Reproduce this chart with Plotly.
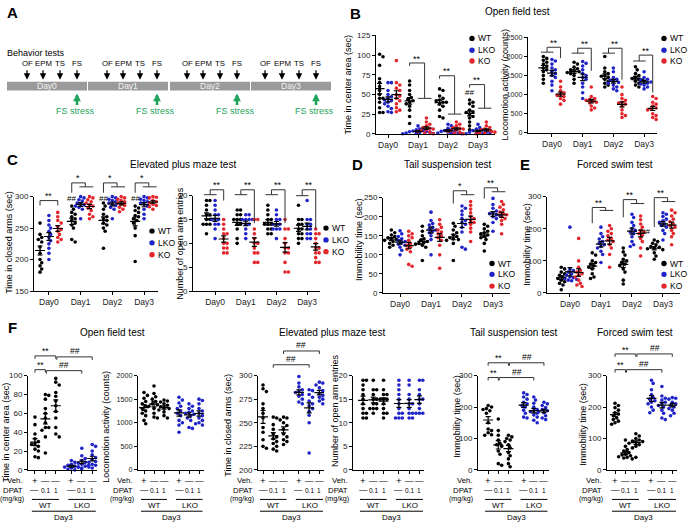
import numpy as np
import plotly.graph_objects as go

W, H = 688, 528
FONT = "Liberation Sans, Arial, sans-serif"
C_WT, C_LKO, C_KO = "#000000", "#1f24c8", "#e3262b"
GREEN = "#1fa35b"

# ---------------- labels ----------------
days = ["Day0", "Day1", "Day2", "Day3"]
genotypes = ["WT", "LKO", "KO"]
schedule_tests = ["OF", "EPM", "TS", "FS"]
veh_row = ["+", "—", "—", "+", "—", "—"]
dpat_row = ["—", "0.1", "1", "—", "0.1", "1"]
f_genotypes = ["WT", "LKO"]

# ---------------- data: panels B-E (Day0..Day3) ----------------
of_center_wt = [[101, 98, 87, 70, 65, 60, 55, 50, 45, 40, 33, 27, 27, 45],
                [67, 62, 55, 50, 46, 44, 42, 40, 38, 35, 30, 22, 13],
                [57, 55, 48, 45, 43, 42, 40, 40, 38, 35, 30, 22, 20],
                [43, 40, 38, 35, 30, 28, 27, 25, 22, 20, 15, 10, 5]]
of_center_lko = [[65, 65, 55, 50, 47, 45, 43, 42, 40, 38, 35, 32, 28, 27],
                 [10, 6, 5, 4, 3.5, 3, 2.5, 2, 1.5, 1, 0.5, 0.3, 0],
                 [12, 10, 7, 5, 4, 3, 3, 2, 1, 1, 0.5, 0],
                 [12, 8, 6, 5, 4, 3, 2, 2, 1, 1, 0.5, 0]]
of_center_ko = [[93, 65, 62, 58, 55, 50, 48, 45, 42, 38, 33, 30, 28],
                [20, 15, 12, 10, 8, 7, 6, 5, 4, 3, 2, 1, 0],
                [15, 12, 10, 8, 7, 6, 5, 4, 3, 2, 1, 0],
                [15, 10, 8, 6, 5, 4, 3, 2, 1, 1, 0]]

of_loco_wt = [[2000, 1950, 1900, 1850, 1800, 1750, 1700, 1650, 1600, 1500, 1400, 1300],
              [1850, 1800, 1720, 1680, 1650, 1620, 1600, 1580, 1550, 1500, 1400, 1300],
              [2000, 1700, 1600, 1550, 1500, 1480, 1450, 1400, 1350, 1300, 1250, 1200],
              [1730, 1650, 1550, 1500, 1450, 1420, 1400, 1380, 1350, 1300, 1250, 1200]]
of_loco_lko = [[1920, 1880, 1800, 1700, 1650, 1600, 1550, 1500, 1450, 1350, 1250, 1100],
               [1870, 1820, 1750, 1650, 1550, 1500, 1450, 1400, 1300, 1200, 1050, 900],
               [1700, 1600, 1450, 1400, 1380, 1350, 1320, 1300, 1250, 1200, 1150, 1100],
               [1600, 1450, 1400, 1380, 1350, 1330, 1300, 1280, 1250, 1200, 1150]]
of_loco_ko = [[1350, 1200, 1100, 1050, 1000, 980, 950, 900, 850, 750],
              [1200, 950, 900, 870, 850, 820, 800, 780, 700, 650, 600],
              [1200, 1000, 900, 850, 800, 780, 750, 700, 600, 500, 450, 400],
              [950, 900, 800, 750, 700, 650, 620, 600, 500, 450, 400, 350]]

epm_closed_wt = [[258, 240, 235, 232, 228, 220, 210, 200, 195, 190, 185, 180],
                 [285, 280, 275, 272, 268, 265, 262, 258, 255, 250, 232, 228],
                 [290, 285, 280, 272, 268, 265, 262, 258, 255, 250, 245, 218],
                 [285, 282, 278, 275, 270, 268, 265, 262, 258, 250, 238, 197]]
epm_closed_lko = [[270, 262, 255, 250, 245, 240, 235, 230, 225, 218, 210, 200],
                  [300, 298, 295, 293, 290, 288, 287, 285, 283, 280, 265],
                  [300, 298, 296, 294, 292, 290, 288, 286, 283, 280, 265],
                  [300, 298, 296, 294, 292, 290, 288, 285, 280, 272, 265]]
epm_closed_ko = [[275, 268, 262, 258, 252, 248, 245, 240, 235, 232, 228],
                 [300, 298, 295, 292, 290, 287, 285, 282, 278, 272, 268, 265],
                 [300, 298, 296, 294, 292, 290, 288, 286, 283, 280, 276],
                 [300, 299, 298, 296, 294, 292, 290, 288, 286, 284, 280]]

epm_entries_wt = [[19, 19, 18, 17, 16, 16, 15, 15, 14, 14, 14, 12],
                  [17, 17, 16, 16, 15, 15, 15, 14, 14, 13, 11, 10],
                  [18, 17, 16, 15, 15, 14, 14, 14, 13, 13, 12, 12],
                  [18, 15, 15, 14, 14, 13, 13, 12, 12, 11, 11, 10]]
epm_entries_lko = [[19, 18, 17, 16, 16, 15, 15, 15, 14, 14, 13, 11],
                   [16, 16, 15, 15, 15, 15, 14, 14, 13, 12, 11],
                   [17, 16, 15, 15, 14, 14, 14, 13, 13, 13, 11],
                   [19, 15, 15, 14, 14, 13, 13, 12, 12, 11, 11]]
epm_entries_ko = [[15, 14, 13, 12, 12, 11, 10, 10, 9, 9, 8, 8],
                  [15, 15, 13, 12, 11, 10, 10, 9, 8, 8, 6, 6],
                  [15, 13, 13, 11, 10, 9, 9, 8, 8, 6, 4, 4],
                  [13, 12, 12, 11, 10, 9, 9, 8, 8, 7, 6, 6]]

ts_imm_wt = [[165, 158, 152, 148, 145, 143, 140, 138, 135, 130, 125, 120],
             [175, 162, 150, 142, 138, 135, 133, 130, 128, 125, 120, 85],
             [183, 175, 165, 158, 152, 148, 145, 142, 140, 138, 130, 85],
             [180, 175, 168, 162, 158, 155, 152, 148, 145, 140, 130, 110]]
ts_imm_lko = [[163, 155, 148, 142, 138, 135, 132, 128, 125, 120, 112, 100],
              [212, 190, 182, 178, 172, 168, 165, 162, 158, 150, 140, 100],
              [228, 222, 215, 205, 195, 190, 185, 180, 172, 160, 120, 115],
              [248, 232, 222, 215, 210, 208, 205, 203, 200, 195, 185, 162]]
ts_imm_ko = [[162, 155, 150, 145, 138, 130, 125, 120, 115, 108, 75, 70],
             [192, 180, 172, 165, 160, 155, 150, 145, 138, 125, 100, 65],
             [240, 230, 220, 210, 200, 195, 190, 185, 180, 170, 160, 135],
             [240, 232, 225, 218, 212, 208, 205, 200, 195, 190, 180, 155]]

fs_imm_wt = [[80, 75, 65, 60, 55, 50, 45, 40, 35, 30, 25, 10],
             [125, 118, 100, 95, 90, 85, 80, 75, 60, 50, 45],
             [140, 128, 118, 105, 100, 95, 90, 85, 75, 65, 40, 28],
             [165, 160, 155, 150, 145, 142, 140, 138, 135, 125, 115, 105]]
fs_imm_lko = [[205, 75, 70, 65, 60, 55, 50, 48, 45, 42, 40, 38],
              [205, 185, 175, 168, 160, 155, 150, 145, 140, 130, 120, 95],
              [245, 235, 220, 210, 200, 195, 190, 185, 175, 160, 150, 145],
              [250, 245, 238, 230, 225, 220, 215, 210, 205, 195, 185, 165]]
fs_imm_ko = [[170, 100, 80, 70, 65, 60, 55, 50, 40, 30, 25, 20],
             [210, 200, 192, 185, 178, 170, 165, 160, 150, 140, 120, 80],
             [240, 228, 215, 205, 195, 190, 185, 180, 170, 160, 140, 115],
             [258, 250, 240, 230, 222, 215, 210, 205, 195, 185, 175, 150]]

# ---------------- data: panel F (Day3; Veh, DPAT 0.1, DPAT 1) ----------------
f_of_center_wt = [[56, 48, 38, 33, 30, 28, 27, 25, 22, 20, 14, 13],
                  [80, 79, 75, 65, 60, 55, 50, 45, 45, 42, 35, 18],
                  [97, 93, 90, 82, 78, 73, 68, 62, 55, 45, 38, 35]]
f_of_center_lko = [[10, 8, 6, 5, 4, 3, 3, 2, 1, 1, 0],
                   [23, 15, 12, 10, 8, 7, 6, 5, 4, 3, 2],
                   [27, 25, 20, 16, 13, 11, 9, 8, 6, 5, 3, 2]]
f_of_loco_wt = [[1640, 1580, 1520, 1450, 1400, 1350, 1300, 1250, 1200, 1150, 1050, 980],
                [1780, 1620, 1550, 1500, 1450, 1400, 1380, 1350, 1300, 1200, 1120, 1100],
                [1480, 1460, 1440, 1400, 1370, 1340, 1320, 1300, 1270, 1230, 1150, 1100]]
f_of_loco_lko = [[1540, 1480, 1420, 1350, 1300, 1250, 1200, 1150, 1050, 1000, 950, 800],
                 [1400, 1350, 1300, 1250, 1220, 1200, 1180, 1150, 1100, 1050, 900, 880],
                 [1500, 1470, 1400, 1300, 1250, 1200, 1150, 1100, 1050, 1000, 980, 950]]
f_epm_closed_wt = [[290, 286, 283, 270, 265, 260, 255, 245, 240, 232, 225, 223],
                   [256, 255, 248, 243, 238, 235, 233, 230, 228, 225, 222, 220],
                   [256, 255, 253, 250, 247, 243, 238, 235, 232, 230, 227]]
f_epm_closed_lko = [[299, 292, 288, 285, 283, 282, 280, 278, 275, 272, 270],
                    [285, 284, 280, 277, 273, 270, 268, 265, 262, 258, 250, 218],
                    [293, 292, 290, 287, 284, 281, 279, 277, 275, 273, 270]]
f_epm_entries_wt = [[19, 19, 18, 17, 16, 15, 14, 13, 12, 12, 11, 11],
                    [19, 17, 17, 16, 15, 15, 14, 14, 13, 13, 13, 12],
                    [19, 17, 16, 16, 15, 15, 15, 14, 13, 12, 12, 11]]
f_epm_entries_lko = [[19, 18, 17, 16, 15, 14, 13, 12, 12, 11, 11, 11],
                     [19, 18, 16, 15, 14, 14, 13, 12, 12, 11, 11],
                     [19, 19, 17, 16, 15, 15, 14, 13, 12, 12, 12]]
f_ts_imm_wt = [[205, 200, 195, 192, 188, 180, 150, 130, 125, 118, 112, 110],
               [162, 125, 110, 95, 85, 80, 75, 60, 50, 20, 15],
               [110, 105, 100, 95, 90, 80, 70, 55, 45, 35, 20, 10]]
f_ts_imm_lko = [[245, 240, 232, 225, 215, 210, 205, 200, 190, 180, 168, 165],
                [232, 222, 212, 200, 192, 188, 185, 180, 175, 168, 158, 150],
                [215, 210, 205, 198, 192, 188, 185, 182, 178, 172, 165, 160]]
f_fs_imm_wt = [[212, 205, 198, 190, 182, 178, 172, 165, 160, 155, 150, 145],
               [95, 75, 65, 60, 55, 50, 48, 45, 42, 40, 38, 35],
               [115, 108, 100, 95, 92, 90, 88, 85, 80, 75, 70, 40]]
f_fs_imm_lko = [[285, 275, 255, 240, 230, 225, 220, 215, 210, 200, 190, 182],
                [265, 235, 228, 222, 215, 210, 205, 200, 190, 180, 165, 160],
                [230, 228, 225, 220, 215, 210, 205, 200, 195, 190, 180, 172]]

# ---------------- helpers ----------------
fig = go.Figure()
layout = {}
shapes = []
annos = []
PANELS = {}


def sfx(n):
    return "" if n == 1 else str(n)


def py2p(py):
    return 1 - py / H


def make_axes(n, xd, yd, xr, yr, ytick, xtickvals, xticktext=None, tsize=8, xtsize=8.5):
    s = sfx(n)
    common = dict(showline=True, linecolor="black", linewidth=1, ticks="outside", ticklen=3,
                  tickwidth=1, tickcolor="black", showgrid=False, zeroline=False, fixedrange=True)
    layout["xaxis" + s] = dict(common, domain=[xd[0] / W, xd[1] / W], range=xr, anchor="y" + s,
                               tickvals=xtickvals, ticktext=xticktext,
                               tickfont=dict(size=xtsize, color="#1a1a1a", family=FONT),
                               showticklabels=xticktext is not None)
    layout["yaxis" + s] = dict(common, domain=[1 - yd[1] / H, 1 - yd[0] / H], range=yr,
                               tickfont=dict(size=tsize, color="#1a1a1a", family=FONT),
                               anchor="x" + s, tickvals=ytick)
    PANELS[n] = dict(xd=xd, yd=yd, sx=(xd[1] - xd[0]) / (xr[1] - xr[0]),
                     sy=(yd[1] - yd[0]) / (yr[1] - yr[0]))


def swarm(vals, cx, sx, sy, d=3.4):
    vals = np.asarray(vals, float)
    order = np.argsort(-vals, kind="stable")
    placed = []
    out = np.zeros(len(vals))
    cands = [0.0]
    for k in range(1, 16):
        cands += [k * d * 0.5, -k * d * 0.5]
    for i in order:
        ypx = vals[i] * sy
        for c in cands:
            if all((c - px) ** 2 + (ypx - pyy) ** 2 >= d * d for px, pyy in placed):
                break
        placed.append((c, ypx))
        out[i] = cx + c / sx
    return out


def add_dots(n, groups, color):
    P = PANELS[n]
    xs, ys = [], []
    for cx, vals in groups:
        xs += list(swarm(vals, cx, P["sx"], P["sy"]))
        ys += list(vals)
    fig.add_trace(go.Scatter(x=xs, y=ys, mode="markers", xaxis="x" + sfx(n), yaxis="y" + sfx(n),
                             marker=dict(size=3.6, color=color, line=dict(width=0)),
                             showlegend=False, hoverinfo="skip", cliponaxis=False))


def add_mean_sem(n, groups, hw_px=5, cap_px=2.5):
    P = PANELS[n]
    xs, ys = [], []
    for cx, vals in groups:
        m = float(np.mean(vals))
        se = float(np.std(vals, ddof=1) / np.sqrt(len(vals)))
        hw, cw = hw_px / P["sx"], cap_px / P["sx"]
        xs += [cx - hw, cx + hw, None, cx, cx, None, cx - cw, cx + cw, None, cx - cw, cx + cw, None]
        ys += [m, m, None, m - se, m + se, None, m + se, m + se, None, m - se, m - se, None]
    fig.add_trace(go.Scatter(x=xs, y=ys, mode="lines", xaxis="x" + sfx(n), yaxis="y" + sfx(n),
                             line=dict(color="black", width=1.2), showlegend=False,
                             hoverinfo="skip", cliponaxis=False))


def seg(n, x0, py0, x1, py1, color="#333333", w=1):
    shapes.append(dict(type="line", xref="x" + sfx(n), yref="paper", x0=x0, x1=x1,
                       y0=py2p(py0), y1=py2p(py1), line=dict(color=color, width=w)))


def dtext(n, x, py, text, size=9, color="black"):
    annos.append(dict(xref="x" + sfx(n), yref="paper", x=x, y=py2p(py), text=text, showarrow=False,
                      font=dict(size=size, color=color, family=FONT), xanchor="center", yanchor="middle"))


def ptext(px, py, text, size=9, color="black", xanchor="center", angle=0, bold=False):
    if bold:
        text = "<b>" + text + "</b>"
    annos.append(dict(xref="paper", yref="paper", x=px / W, y=py2p(py), text=text, showarrow=False,
                      font=dict(size=size, color=color, family=FONT), xanchor=xanchor,
                      yanchor="middle", textangle=angle))


def legend(xdot, ys):
    for py, lab, col in zip(ys, genotypes, [C_WT, C_LKO, C_KO]):
        r = 2.7
        shapes.append(dict(type="circle", xref="paper", yref="paper", x0=(xdot - r) / W, x1=(xdot + r) / W,
                           y0=py2p(py + r), y1=py2p(py - r), fillcolor=col, line=dict(width=0)))
        ptext(xdot + 4, py, lab, size=8.5, xanchor="left")


STAR_OFF, HASH_OFF = 4.5, 6


def br_simple(n, xa, xb, py, label, tick=3):
    seg(n, xa, py + tick, xa, py)
    seg(n, xa, py, xb, py)
    seg(n, xb, py, xb, py + tick)
    off = HASH_OFF if "#" in label else STAR_OFF
    dtext(n, (xa + xb) / 2, py - off, label, size=8.5)


def br_wt_down(n, d, py_top, py_low, label):          # B1 style
    seg(n, d - 0.28, py_top + 3, d - 0.28, py_top)
    seg(n, d - 0.28, py_top, d + 0.22, py_top)
    seg(n, d + 0.22, py_top, d + 0.22, py_low)
    seg(n, d + 0.0, py_low, d + 0.45, py_low)
    dtext(n, d - 0.03, py_top - STAR_OFF, label)


def br_pair_ko(n, d, py_low, py_top, py_ko, label):   # B2 / C2 style
    seg(n, d - 0.36, py_low, d + 0.05, py_low)
    seg(n, d - 0.16, py_low, d - 0.16, py_top)
    seg(n, d - 0.16, py_top, d + 0.28, py_top)
    seg(n, d + 0.28, py_top, d + 0.28, py_ko)
    dtext(n, d + 0.06, py_top - STAR_OFF, label)


def br_wt_up(n, d, py_wt, py_top, py_low, label):     # C1 / D / E style
    seg(n, d - 0.28, py_wt, d - 0.28, py_top)
    seg(n, d - 0.28, py_top, d + 0.15, py_top)
    seg(n, d + 0.15, py_top, d + 0.15, py_low)
    seg(n, d - 0.04, py_low, d + 0.4, py_low)
    dtext(n, d - 0.07, py_top - STAR_OFF, label)


GOFF = 0.28


def day_panel(n, wt, lko, ko):
    for g, (series, col) in enumerate([(wt, C_WT), (lko, C_LKO), (ko, C_KO)]):
        add_dots(n, [(d + (g - 1) * GOFF, series[d]) for d in range(len(days))], col)
    grp = []
    for g, series in enumerate([wt, lko, ko]):
        grp += [(d + (g - 1) * GOFF, series[d]) for d in range(len(days))]
    add_mean_sem(n, grp)


F_POS = [0, 1, 2, 3.5, 4.5, 5.5]


def f_panel(n, wt, lko):
    add_dots(n, [(F_POS[i], wt[i]) for i in range(3)], C_WT)
    add_dots(n, [(F_POS[3 + i], lko[i]) for i in range(3)], C_LKO)
    add_mean_sem(n, [(F_POS[i], wt[i]) for i in range(3)] + [(F_POS[3 + i], lko[i]) for i in range(3)])
    P = PANELS[n]
    xl = P["xd"][0]
    ptext(xl - 3, 485, "Veh.", size=7.8, xanchor="right")
    ptext(xl - 3, 494.5, "DPAT", size=7.8, xanchor="right")
    ptext(xl - 2.5, 504, "(mg/kg)", size=7.1, xanchor="right")
    for i, x in enumerate(F_POS):
        dtext(n, x, 485, veh_row[i], size=9.5 if veh_row[i] == "+" else 8.5)
        dtext(n, x, 494.5, dpat_row[i], size=6.5 if dpat_row[i] != "—" else 8.5)
    seg(n, -0.3, 504, 2.3, 504, color="black")
    seg(n, 3.2, 504, 5.85, 504, color="black")
    dtext(n, 1, 510.5, f_genotypes[0], size=8)
    dtext(n, 4.55, 510.5, f_genotypes[1], size=8)
    seg(n, -0.3, 516, 5.85, 516, color="black")
    dtext(n, 2.78, 522.5, days[3], size=8)


# ---------------- Panel B ----------------
make_axes(1, (376, 495), (32, 132), [-0.4, 3.567], [0, 125], [0, 25, 50, 75, 100, 125], [0, 1, 2, 3], days)
day_panel(1, of_center_wt, of_center_lko, of_center_ko)
br_wt_down(1, 1, 60, 96, "**")
br_wt_down(1, 2, 73, 112, "**")
br_wt_down(1, 3, 82, 106, "**")
dtext(1, 3 - GOFF, 92 - 2, "##", size=8)

make_axes(2, (528, 657), (34, 131), [-0.78, 3.42], [0, 2500], [0, 500, 1000, 1500, 2000, 2500], [0, 1, 2, 3], days, tsize=7.2)
day_panel(2, of_loco_wt, of_loco_lko, of_loco_ko)
br_pair_ko(2, 0, 49, 44, 55, "**")
br_pair_ko(2, 1, 50, 45, 68, "**")
br_pair_ko(2, 2, 50, 45, 77, "**")
br_pair_ko(2, 3, 58, 52, 90, "**")

# ---------------- Panel C ----------------
make_axes(3, (34, 158), (196, 292), [-0.47, 3.44], [150, 300], [150, 200, 250, 300], [0, 1, 2, 3], days)
day_panel(3, epm_closed_wt, epm_closed_lko, epm_closed_ko)
br_simple(3, -GOFF, GOFF, 200, "**", tick=5)
for d in (1, 2, 3):
    br_wt_up(3, d, 192, 182, 186, "*")
    dtext(3, d - GOFF, 198, "##", size=8)

make_axes(4, (193, 320), (195, 292), [-0.72, 3.42], [0, 20], [0, 5, 10, 15, 20], [0, 1, 2, 3], days)
day_panel(4, epm_entries_wt, epm_entries_lko, epm_entries_ko)
br_pair_ko(4, 0, 194, 189, 200, "**")
br_pair_ko(4, 1, 194, 189, 223, "**")
br_pair_ko(4, 2, 194, 189, 223, "**")
br_pair_ko(4, 3, 195, 189, 229, "**")

# ---------------- Panel D ----------------
make_axes(5, (383, 510), (197, 294), [-0.55, 3.55], [0, 250], [0, 50, 100, 150, 200, 250], [0, 1, 2, 3], days)
day_panel(5, ts_imm_wt, ts_imm_lko, ts_imm_ko)
br_wt_up(5, 2, 203, 190, 194, "*")
br_wt_up(5, 3, 198, 187, 191, "**")

# ---------------- Panel E ----------------
make_axes(6, (547, 680), (196, 294), [-0.74, 3.55], [0, 300], [0, 100, 200, 300], [0, 1, 2, 3], days)
day_panel(6, fs_imm_wt, fs_imm_lko, fs_imm_ko)
br_wt_up(6, 1, 223, 207, 210, "**")
br_wt_up(6, 2, 217, 199, 203, "**")
br_wt_up(6, 3, 227, 197, 201, "**")
dtext(6, 3 - 0.55, 231, "##", size=8)

# ---------------- Panel F ----------------
FY = (378, 474)
make_axes(7, (28, 97), FY, [-0.67, 5.96], [0, 100], [0, 20, 40, 60, 80, 100], F_POS)
f_panel(7, f_of_center_wt, f_of_center_lko)
br_simple(7, 0, 2, 358, "**")
br_simple(7, 0, 1, 372, "**")
br_simple(7, 2.1, 5.5, 359, "##")
br_simple(7, 1.1, 4.5, 373, "##")

make_axes(8, (138, 204), FY, [-0.6, 6.0], [0, 2000], [0, 500, 1000, 1500, 2000], F_POS, tsize=7.2)
f_panel(8, f_of_loco_wt, f_of_loco_lko)

make_axes(9, (258, 324), FY, [-0.49, 5.95], [200, 300], [200, 225, 250, 275, 300], F_POS)
f_panel(9, f_epm_closed_wt, f_epm_closed_lko)
br_simple(9, 2, 5.5, 353, "##")
br_simple(9, 1, 4.5, 367, "##")

make_axes(10, (353, 424), FY, [-0.98, 5.95], [0, 20], [0, 5, 10, 15, 20], F_POS)
f_panel(10, f_epm_entries_wt, f_epm_entries_lko)

make_axes(11, (478, 549), FY, [-1.0, 6.0], [0, 300], [0, 100, 200, 300], F_POS)
f_panel(11, f_ts_imm_wt, f_ts_imm_lko)
br_simple(11, 0, 2, 365, "**")
br_simple(11, 0, 1, 380, "**")
br_simple(11, 2.1, 5.5, 365, "##")
br_simple(11, 1.1, 4.5, 380, "##")

make_axes(12, (607, 677), FY, [-0.77, 5.95], [0, 300], [0, 100, 200, 300], F_POS)
f_panel(12, f_fs_imm_wt, f_fs_imm_lko)
br_simple(12, 0, 2, 356, "**")
br_simple(12, 0, 1, 372, "**")
br_simple(12, 2.1, 5.5, 356, "##")
br_simple(12, 1.1, 4.5, 372, "##")

# ---------------- legends ----------------
legend(472, [35, 47, 58])
legend(664, [35, 47, 58])
legend(152, [231, 243, 255])
legend(326, [228, 240, 252])
legend(492, [264, 275, 287])
legend(664, [264, 275, 287])

# ---------------- axis titles ----------------
for px, py, t in [(348, 82, "Time in center area (sec)"), (505, 82, "Locomotion activity (counts)"),
                  (9, 243, "Time in closed arms (sec)"), (180, 244, "Number of open arm entries"),
                  (359, 240, "Immobility time (sec)"), (527, 245, "Immobility time (sec)"),
                  (6, 436, "Time in center area (sec)"), (106, 430, "Locomotion activity (counts)"),
                  (228, 428, "Time in closed arms (sec)"), (335, 414, "Number of open arm entries"),
                  (457, 420, "Immobility time (sec)"), (583, 428, "Immobility time (sec)")]:
    ptext(px, py, t, size=9, angle=-90)

# ---------------- panel letters & titles ----------------
for px, py, t in [(12, 9, "A"), (355, 10, "B"), (12, 158, "C"), (357, 163, "D"), (525, 163, "E"), (12, 329, "F")]:
    ptext(px, py, t, size=15, bold=True)
for px, py, t in [(517, 8, "Open field test"), (183, 163, "Elevated plus maze test"),
                  (447, 163, "Tail suspension test"), (615, 163, "Forced swim test"),
                  (113, 334, "Open field test"), (332, 334, "Elevated plus maze test"),
                  (513, 334, "Tail suspension test"), (635, 334, "Forced swim test")]:
    ptext(px, py, t, size=10)

# ---------------- Panel A: schedule ----------------
ptext(5, 50, "Behavior tests", size=9, xanchor="left")
seg_x = [(7, 87), (88, 168), (170, 250), (251, 331)]
test_x = [[27, 43, 60, 77], [107, 123, 140, 157], [187, 203, 220, 237], [265, 282, 299, 316]]
for (x0, x1), xs, dlab in zip(seg_x, test_x, days):
    shapes.append(dict(type="rect", xref="paper", yref="paper", x0=x0 / W, x1=x1 / W,
                       y0=py2p(88), y1=py2p(79), fillcolor="#9a9a9a", line=dict(width=0)))
    ptext((x0 + x1) / 2, 83.5, dlab, size=8.5, color="#f2f2f2")
    for x, lab in zip(xs, schedule_tests):
        ptext(x, 61, lab, size=7.8)
        annos.append(dict(xref="paper", yref="paper", x=x / W, y=py2p(77), ax=0, ay=-11, text="",
                          showarrow=True, arrowhead=2, arrowsize=1, arrowwidth=1.3, arrowcolor="black"))
    fx = xs[3]
    annos.append(dict(xref="paper", yref="paper", x=fx / W, y=py2p(91), ax=0, ay=13, text="",
                      showarrow=True, arrowhead=2, arrowsize=0.6, arrowwidth=2.6, arrowcolor=GREEN))
    ptext(fx - 2, 109, "FS stress", size=9, color=GREEN)

layout.update(dict(width=W, height=H, margin=dict(l=0, r=0, t=0, b=0), paper_bgcolor="white",
                   plot_bgcolor="white", showlegend=False, shapes=shapes, annotations=annos,
                   font=dict(family=FONT, size=9, color="black")))
fig.update_layout(**layout)
fig.write_html("out.html", config={"displayModeBar": False},
               post_script="document.body.style.margin='0';document.body.style.overflow='hidden';")
